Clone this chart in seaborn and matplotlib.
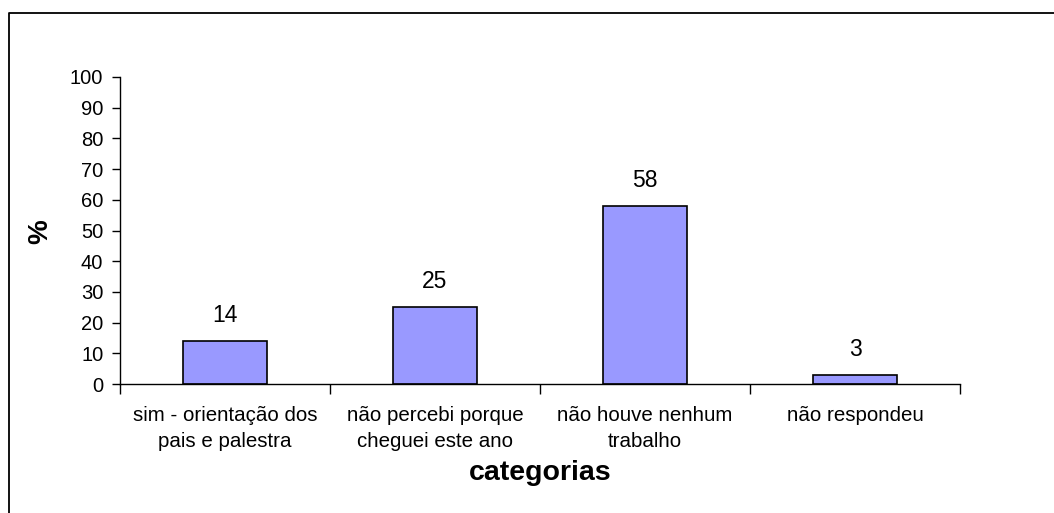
import matplotlib
matplotlib.use("Agg")
import matplotlib.pyplot as plt
import seaborn as sns
import pandas as pd
from matplotlib.lines import Line2D

categories = ["sim - orientação dos\npais e palestra",
              "não percebi porque\ncheguei este ano",
              "não houve nenhum\ntrabalho",
              "não respondeu"]
values = [14, 25, 58, 3]
y_ticks = [0, 10, 20, 30, 40, 50, 60, 70, 80, 90, 100]

sns.set_theme(style="white")
plt.rcParams["font.family"] = ["Liberation Sans", "DejaVu Sans"]
plt.rcParams["text.color"] = "black"
plt.rcParams["xtick.color"] = "black"
plt.rcParams["ytick.color"] = "black"

df = pd.DataFrame({"categoria": categories, "pct": values})

W, H = 1054, 513
fig = plt.figure(figsize=(W / 100, H / 100), dpi=100)
ax = fig.add_axes([120 / W, 1 - 384 / H, (960 - 120) / W, (384 - 77) / H])

sns.barplot(data=df, x="categoria", y="pct", color="#9999FF", saturation=1,
            width=0.4, edgecolor="black", linewidth=1.2, ax=ax)

ax.set_xlim(-0.5, len(categories) - 0.5)
ax.set_ylim(0, 100)
ax.set_yticks(y_ticks)
ax.set_yticklabels([str(t) for t in y_ticks], fontsize=14.5)

# category ticks sit between the bars, labels centred under each bar
ax.set_xticks([i + 0.5 for i in range(-1, len(categories))])
ax.set_xticklabels([])
ax.set_xticks(range(len(categories)), minor=True)
ax.set_xticklabels(categories, minor=True, fontsize=14.8, linespacing=1.45)
ax.tick_params(axis="x", which="major", direction="out", length=7, width=1,
               color="black", bottom=True)
ax.tick_params(axis="x", which="minor", length=0, pad=16)
ax.tick_params(axis="y", direction="out", length=6, width=1, color="black",
               left=True, pad=6)

for side in ["top", "right"]:
    ax.spines[side].set_visible(False)
for side in ["left", "bottom"]:
    ax.spines[side].set_color("black")
    ax.spines[side].set_linewidth(1)

for i, v in enumerate(values):
    ax.annotate(str(v), (i, v), xytext=(0, 10), textcoords="offset points",
                ha="center", va="bottom", fontsize=16.5)

ax.set_xlabel("")
ax.set_ylabel("")
fig.text(540 / W, 1 - 473 / H, "categorias", ha="center", va="center",
         fontsize=20.5, fontweight="bold")
fig.text(40 / W, 1 - 232 / H, "%", ha="center", va="center", rotation=90,
         fontsize=20, fontweight="bold")

# chart-area frame (left and top edges)
fig.add_artist(Line2D([8.5 / W, 8.5 / W, 1.0], [0.0, 1 - 12.5 / H, 1 - 12.5 / H],
                      transform=fig.transFigure, color="black", linewidth=1.3))

fig.savefig("out.png", dpi=100)
